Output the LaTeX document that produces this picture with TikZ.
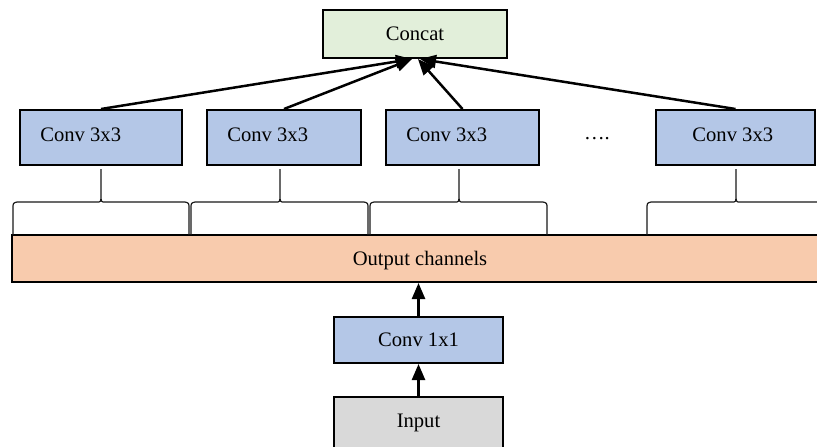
\documentclass[tikz,border=0pt]{standalone}
\usepackage{fontspec}
\setmainfont{Liberation Serif}
\usetikzlibrary{arrows.meta}
\definecolor{convblue}{HTML}{B4C7E7}
\definecolor{concatgreen}{HTML}{E2EFDA}
\definecolor{chanorange}{HTML}{F8CBAD}
\definecolor{inputgray}{HTML}{D9D9D9}
% channel-group brace: left end, tip, right end (x values)
\newcommand\chbrace[3]{%
  \draw[brace] (#1,235) -- (#1,209) .. controls (#1,203) .. (#1+4,202)
    -- (#2-4,202) .. controls (#2,202) .. (#2,194) -- (#2,169)
    (#2,194) .. controls (#2,202) .. (#2+4,202)
    -- (#3-4,202) .. controls (#3,203) .. (#3,209) -- (#3,235);}
\begin{document}
\begin{tikzpicture}[x=0.5pt,y=-0.5pt,
  font=\fontsize{10.3}{12}\selectfont,
  box/.style={draw=black, line width=1pt, inner sep=0pt},
  conv/.style={box, fill=convblue, minimum height=27.5pt},
  arr/.style={line width=1.25pt, -{Triangle[length=8pt,width=6.5pt]}},
  brace/.style={draw=black!90, line width=0.6pt}]
\useasboundingbox (0,0) rectangle (817,446);

% top concatenation
\node[box, fill=concatgreen, minimum width=92pt, minimum height=24pt] (concat) at (415,34) {Concat};

% 3x3 branches
\node[conv, minimum width=81pt]   (c1) at (101,137.5) {};
\node[conv, minimum width=77pt]   (c2) at (284,137.5) {};
\node[conv, minimum width=76.5pt] (c3) at (462.5,137.5) {};
\node[conv, minimum width=79.5pt] (c4) at (735.5,137.5) {};
\node[anchor=west, inner sep=0pt] (t1) at ([xshift=10.5pt,yshift=1.5pt]c1.west) {Conv 3x3};
\node[anchor=west, inner sep=0pt] (t2) at ([xshift=10.5pt,yshift=1.5pt]c2.west) {Conv 3x3};
\node[anchor=west, inner sep=0pt] (t3) at ([xshift=10.5pt,yshift=1.5pt]c3.west) {Conv 3x3};
\node[anchor=west, inner sep=0pt] (t4) at ([xshift=18.5pt,yshift=1.5pt]c4.west) {Conv 3x3};
\node[inner sep=0pt] (dots) at (597,139) {….};

% output channel bar
\node[box, fill=chanorange, minimum width=405.5pt, minimum height=23.5pt, anchor=west] (bar) at (11,258.5) {};
\node[inner sep=0pt] (bartext) at (420,261) {Output channels};

% channel groups
\chbrace{13}{101}{189}
\chbrace{191}{280}{368}
\chbrace{370}{459}{547}
\chbrace{647}{736}{825}

% 1x1 stem and input
\node[box, fill=convblue, minimum width=84.5pt, minimum height=23pt] (c11) at (418.5,340) {Conv 1x1};
\node[box, fill=inputgray, minimum width=84.5pt, minimum height=25.5pt] (in) at (418.5,422.5) {\raisebox{-1pt}{Input}};

% connectors
\draw[arr] (in.north) -- (c11.south);
\draw[arr] (c11.north) -- (c11.north |- bar.south);
\draw[arr] (c1.north) -- ([xshift=-1.5pt]concat.south);
\draw[arr] (c2.north) -- ([xshift=-1.5pt]concat.south);
\draw[arr] (c3.north) -- ([xshift=1.5pt]concat.south);
\draw[arr] (c4.north) -- ([xshift=2.5pt]concat.south);
\end{tikzpicture}
\end{document}
